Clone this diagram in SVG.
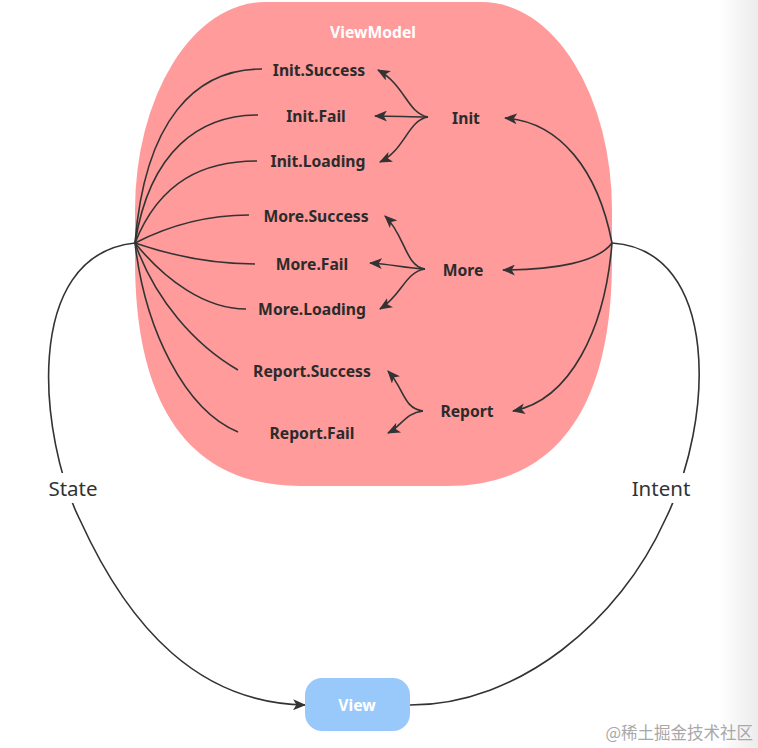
<svg xmlns="http://www.w3.org/2000/svg" width="758" height="748" viewBox="0 0 758 748">
<style>
.lbl{font-family:"Noto Sans","Liberation Sans",sans-serif;font-weight:bold;font-size:15.7px;fill:#2b2b2b;text-anchor:middle;dominant-baseline:central}
.edge{fill:none;stroke:#333;stroke-width:1.6}
.side{font-family:"Noto Sans","Liberation Sans",sans-serif;font-size:20.5px;fill:#333;text-anchor:middle;dominant-baseline:central}
</style>
<defs>
<marker id="ah" viewBox="0 0 12 10" refX="11" refY="5" markerWidth="13" markerHeight="11" markerUnits="userSpaceOnUse" orient="auto">
<path d="M0,0 L12,5 L0,10 L3,5 Z" fill="#333"/>
</marker>
<linearGradient id="edgeg" x1="0" x2="1" y1="0" y2="0">
<stop offset="0" stop-color="#ffffff"/>
<stop offset="1" stop-color="#ececec"/>
</linearGradient>
</defs>
<rect width="758" height="748" fill="#fff"/>
<rect x="718" y="0" width="40" height="748" fill="url(#edgeg)"/>

<g id="viewmodel">
<path d="M265,2 H482 A130,208 0 0 1 612,210 V260 C612,420 547,486 447,486 H300 C200,486 135,420 135,260 V210 A130,208 0 0 1 265,2 Z" fill="#ff9b9b"/>
<text x="373" y="32" class="lbl" style="fill:#fff">ViewModel</text>
</g>

<g id="connectors">
<!-- left hub fan -->
<path class="edge" d="M135,243 C145,120 195,69 262,69"/>
<path class="edge" d="M135,243 C150,150 200,115 258,115"/>
<path class="edge" d="M135,243 C160,180 205,161 257,161"/>
<path class="edge" d="M135,243 C170,225 210,215 249,215"/>
<path class="edge" d="M135,243 C170,255 210,264 255,264"/>
<path class="edge" d="M135,243 C165,280 205,309 246,309"/>
<path class="edge" d="M135,243 C155,300 195,345 238,370"/>
<path class="edge" d="M135,243 C145,330 185,410 238,432"/>
<!-- right hub to intents -->
<path class="edge" marker-end="url(#ah)" d="M612,243 C598,170 560,122 505,118"/>
<path class="edge" marker-end="url(#ah)" d="M612,243 C598,262 555,270 503,270"/>
<path class="edge" marker-end="url(#ah)" d="M612,243 C605,330 570,400 513,411"/>
<!-- Init branches -->
<path class="edge" marker-end="url(#ah)" d="M428,117 C408,114 405,85 378,70"/>
<path class="edge" marker-end="url(#ah)" d="M428,117 C410,117 395,116 375,116"/>
<path class="edge" marker-end="url(#ah)" d="M428,117 C408,120 405,150 380,162"/>
<!-- More branches -->
<path class="edge" marker-end="url(#ah)" d="M425,269 C405,266 405,235 385,216"/>
<path class="edge" marker-end="url(#ah)" d="M425,269 C405,268 390,264 370,263"/>
<path class="edge" marker-end="url(#ah)" d="M425,269 C405,272 402,295 380,309"/>
<!-- Report branches -->
<path class="edge" marker-end="url(#ah)" d="M423,411 C403,408 405,390 388,371"/>
<path class="edge" marker-end="url(#ah)" d="M423,411 C405,413 402,426 388,433"/>
<!-- State / Intent -->
<path class="edge" marker-end="url(#ah)" d="M135,243 C20,255 40,440 80,520 C130,630 200,703 305,705"/>
<path class="edge" d="M410,705 C520,705 620,620 665,520 C715,420 720,250 612,243"/>
</g>

<g id="labels">
<text class="lbl" x="319" y="70">Init.Success</text>
<text class="lbl" x="316" y="116">Init.Fail</text>
<text class="lbl" x="318" y="161">Init.Loading</text>
<text class="lbl" x="316" y="216">More.Success</text>
<text class="lbl" x="312" y="264">More.Fail</text>
<text class="lbl" x="312" y="309">More.Loading</text>
<text class="lbl" x="312" y="371">Report.Success</text>
<text class="lbl" x="312" y="433">Report.Fail</text>
<text class="lbl" x="466" y="118">Init</text>
<text class="lbl" x="463" y="270">More</text>
<text class="lbl" x="467" y="411">Report</text>
</g>

<g id="state">
<rect x="43" y="473" width="62" height="30" fill="#fff"/>
<text class="side" x="73" y="488">State</text>
</g>
<g id="intent">
<rect x="627" y="473" width="68" height="30" fill="#fff"/>
<text class="side" x="661" y="488">Intent</text>
</g>

<g id="view">
<rect x="305" y="678" width="105" height="53" rx="17" fill="#99c9fb"/>
<text class="lbl" x="357" y="705" style="fill:#fff">View</text>
</g>

<text x="753" y="732" font-family="'Noto Sans CJK SC',sans-serif" font-size="16.5" fill="#a8a8a8" text-anchor="end" dominant-baseline="central">@稀土掘金技术社区</text>
</svg>
